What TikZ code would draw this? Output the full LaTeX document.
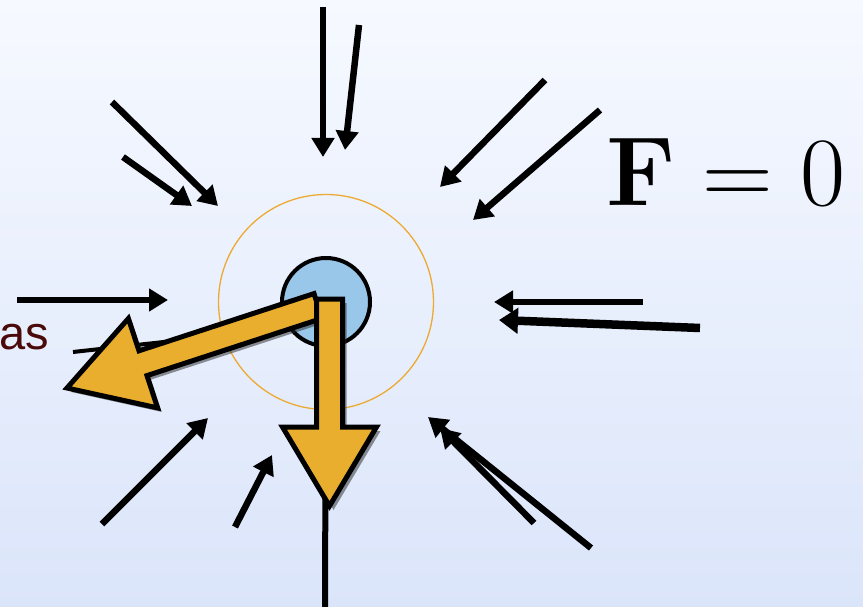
\documentclass[tikz,border=0pt]{standalone}
\usepackage{fontspec}
\newfontfamily\labelfont{Liberation Sans}
\usetikzlibrary{shadows,arrows.meta}
\definecolor{bgtop}{RGB}{246,249,255}
\definecolor{bgbot}{RGB}{219,229,250}
\definecolor{bigarrow}{RGB}{234,174,46}
\definecolor{ringcol}{RGB}{236,170,50}
\definecolor{ballcol}{RGB}{153,199,234}
\definecolor{labelcol}{RGB}{75,10,10}
\tikzset{
  force/.style={line width=6.5pt,-{Triangle[length=19pt,width=22pt]}},
  thickforce/.style={line width=8.5pt,-{Triangle[length=19pt,width=25pt]}},
  bigarr/.style={fill=bigarrow,draw=black,line width=5pt,line join=miter,
    drop shadow={shadow xshift=4pt,shadow yshift=-4pt,opacity=0.5,fill=black!85}},
}
\begin{document}
\begin{tikzpicture}[x=1pt,y=-1pt]
\shade[top color=bgtop,bottom color=bgbot] (0,0) rectangle (863,607);
\useasboundingbox (0,0) rectangle (863,607);
% centre
\coordinate (c) at (326,302);
% inward forces
\coordinate (a1s) at (112,102); \coordinate (a1e) at (218,206);
\coordinate (a2s) at (123,157); \coordinate (a2e) at (192,206);
\coordinate (a3s) at (323,7);   \coordinate (a3e) at (323,157);
\coordinate (a4s) at (359,25);  \coordinate (a4e) at (345,150);
\coordinate (a5s) at (545,80);  \coordinate (a5e) at (440,187);
\coordinate (a6s) at (600,110); \coordinate (a6e) at (473,220);
\coordinate (a7s) at (643,302); \coordinate (a7e) at (494,302);
\coordinate (a8s) at (700,328); \coordinate (a8e) at (499,320);
\coordinate (a9s) at (591,548); \coordinate (a9e) at (428,417);
\coordinate (a10s) at (534,523); \coordinate (a10e) at (440,428);
\coordinate (a11s) at (102,524); \coordinate (a11e) at (208,418);
\coordinate (a12s) at (235,527); \coordinate (a12e) at (272,455);
\coordinate (a13s) at (17,300); \coordinate (a13e) at (168,300);
\coordinate (l1s) at (73,352);
\coordinate (l1e) at (200,338);
\coordinate (l2e) at (325,607);
\foreach \i in {1,2,3,4,5,6,7,9,10,11,12,13}
  \draw[force] (a\i s) -- (a\i e);
\draw[thickforce] (a8s) -- (a8e);
% lines hidden behind the big arrows
\draw[line width=4pt] (l1s) -- (l1e);
\draw[line width=6pt] (c) -- (l2e);
% ring and ball
\node[circle,draw=ringcol,line width=1.3pt,minimum size=215pt,inner sep=0pt] (ring) at (c) {};
\node[circle,draw=black,fill=ballcol,line width=4pt,minimum size=88pt,inner sep=0pt] (ball) at (c) {};
% big arrows
\path[bigarr] (314.0,293.6) -- (139.0,350.8) -- (128.4,318.5) -- (67,388)
  -- (157.6,407.9) -- (147.0,375.6) -- (322.0,318.4) -- cycle;
\path[bigarr] (316.5,299) -- (342.5,299) -- (342.5,427) -- (376.5,427)
  -- (329.5,506) -- (282.5,427) -- (316.5,427) -- cycle;
% labels
\node[anchor=base west,inner sep=0pt] (feq) at (606,206)
  {\fontsize{98}{98}\selectfont\textbf{F}\hspace{0.28em}=\hspace{0.28em}0};
\node[anchor=base west,inner sep=0pt,text=labelcol] (as) at (-1,349)
  {\labelfont\fontsize{47}{47}\selectfont as};
\end{tikzpicture}
\end{document}
